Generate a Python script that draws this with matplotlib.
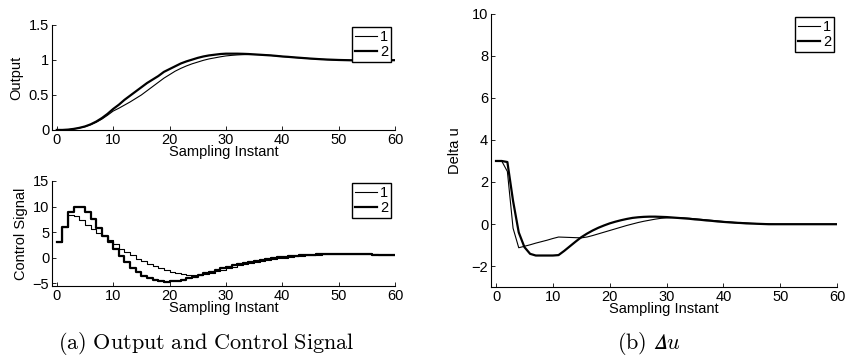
import numpy as np
import matplotlib
matplotlib.use("Agg")
import matplotlib.pyplot as plt

plt.rcParams['font.family'] = ['Liberation Sans', 'DejaVu Sans']
plt.rcParams['mathtext.fontset'] = 'cm'

# sampling instants
k = np.arange(0, 61)

# output, case 1 (thin) and case 2 (thick)
out_1 = [0, 0, 0.004, 0.013, 0.028, 0.047, 0.075, 0.11, 0.155, 0.21, 0.27,
         0.31, 0.355, 0.40, 0.45, 0.50, 0.56, 0.62, 0.68, 0.74, 0.79,
         0.84, 0.88, 0.915, 0.945, 0.97, 0.995, 1.015, 1.03, 1.045, 1.058,
         1.066, 1.072, 1.076, 1.078, 1.078, 1.076, 1.071, 1.065, 1.058, 1.05,
         1.044, 1.037, 1.031, 1.025, 1.019, 1.014, 1.009, 1.005, 1.002, 1.0,
         0.998, 0.996, 0.995, 0.994, 0.994, 0.994, 0.994, 0.995, 0.996, 0.997]
out_2 = [0, 0, 0.005, 0.015, 0.03, 0.05, 0.08, 0.12, 0.17, 0.23, 0.30,
         0.36, 0.43, 0.49, 0.55, 0.61, 0.67, 0.72, 0.77, 0.83, 0.87,
         0.91, 0.95, 0.98, 1.005, 1.03, 1.05, 1.065, 1.075, 1.085, 1.09,
         1.09, 1.09, 1.088, 1.085, 1.08, 1.075, 1.07, 1.065, 1.058, 1.05,
         1.045, 1.038, 1.032, 1.026, 1.02, 1.015, 1.01, 1.006, 1.003, 1.0,
         0.998, 0.996, 0.995, 0.994, 0.994, 0.994, 0.994, 0.995, 0.996, 0.997]

# control signal
u_1 = [3, 6, 8.4, 8.2, 7.4, 6.5, 5.7, 4.9, 4.2, 3.4, 2.6,
       1.8, 1.1, 0.45, -0.15, -0.7, -1.2, -1.65, -2.05, -2.4, -2.7,
       -2.95, -3.15, -3.3, -3.38, -3.35, -3.2, -2.95, -2.65, -2.35, -2.05,
       -1.75, -1.48, -1.22, -0.97, -0.76, -0.56, -0.39, -0.23, -0.09, 0.04,
       0.16, 0.27, 0.37, 0.46, 0.54, 0.61, 0.66, 0.7, 0.73, 0.75,
       0.76, 0.76, 0.75, 0.73, 0.7, 0.66, 0.62, 0.57, 0.52, 0.47]
u_2 = [3, 6, 9, 10, 9.9, 9.0, 7.5, 5.8, 4.3, 3.0, 1.7,
       0.4, -0.9, -1.9, -2.7, -3.5, -4.0, -4.35, -4.55, -4.7, -4.6,
       -4.45, -4.25, -4.0, -3.7, -3.3, -3.0, -2.7, -2.35, -2.0, -1.7,
       -1.45, -1.2, -0.95, -0.75, -0.55, -0.35, -0.2, -0.05, 0.1, 0.2,
       0.3, 0.4, 0.5, 0.57, 0.63, 0.68, 0.72, 0.75, 0.77, 0.78,
       0.78, 0.77, 0.75, 0.72, 0.68, 0.64, 0.6, 0.55, 0.5, 0.45]

# increments of the control signal
du_1 = [3, 3, 2.5, -0.2, -1.13, -1.06, -0.99, -0.91, -0.84, -0.77, -0.69,
        -0.62, -0.63, -0.64, -0.65, -0.66, -0.62, -0.55, -0.47, -0.39, -0.31,
        -0.23, -0.15, -0.07, 0.0, 0.07, 0.13, 0.18, 0.23, 0.27, 0.29,
        0.3, 0.3, 0.29, 0.27, 0.25, 0.22, 0.2, 0.17, 0.15, 0.12,
        0.1, 0.08, 0.06, 0.05, 0.03, 0.02, 0.01, 0.0, -0.01, -0.01,
        -0.01, -0.01, -0.01, -0.01, -0.01, -0.01, -0.01, -0.01, -0.01, -0.01]
du_2 = [3, 3, 2.95, 1.1, -0.4, -1.1, -1.42, -1.5, -1.5, -1.5, -1.5,
        -1.48, -1.28, -1.06, -0.84, -0.63, -0.46, -0.31, -0.18, -0.07, 0.03,
        0.11, 0.18, 0.24, 0.29, 0.32, 0.34, 0.35, 0.35, 0.34, 0.33,
        0.31, 0.29, 0.27, 0.25, 0.22, 0.2, 0.17, 0.15, 0.12, 0.1,
        0.08, 0.06, 0.05, 0.03, 0.02, 0.01, 0.0, -0.01, -0.01, -0.01,
        -0.01, -0.01, -0.01, -0.01, -0.01, -0.01, -0.01, -0.01, -0.01, -0.01]

labels = ['1', '2']
thin, thick = 0.8, 1.6
fs = 10.5


def matlab_style(ax):
    for s in ['top', 'right']:
        ax.spines[s].set_visible(False)
    for s in ['left', 'bottom']:
        ax.spines[s].set_linewidth(0.8)
    ax.tick_params(direction='in', length=3, width=0.6, labelsize=fs, pad=2)
    ax.set_xticks(np.arange(0, 61, 10))
    ax.set_xlabel('Sampling Instant', fontsize=fs, labelpad=-1)
    ax.yaxis.set_major_formatter(matplotlib.ticker.FuncFormatter(
        lambda v, p: ('%g' % v).replace('-', '\u2212')))


def add_legend(ax, fig, corner):
    leg = ax.legend(labels, loc='upper right', bbox_to_anchor=corner,
                    bbox_transform=fig.transFigure, fontsize=fs,
                    frameon=True, fancybox=False, framealpha=1,
                    edgecolor='black', borderaxespad=0, handlelength=1.5,
                    handletextpad=0.2, borderpad=0.2, labelspacing=0.05)
    leg.get_frame().set_linewidth(1.0)


fig = plt.figure(figsize=(8.47, 3.57), dpi=100)

ax1 = fig.add_axes([0.0614, 0.636, 0.405, 0.294])
ax1.plot(k, out_1, color='black', lw=thin)
ax1.plot(k, out_2, color='black', lw=thick)
ax1.set_xlim(-0.85, 60)
ax1.set_ylim(0, 1.5)
ax1.set_yticks([0, 0.5, 1, 1.5])
ax1.set_ylabel('Output', fontsize=fs, labelpad=4)
matlab_style(ax1)
add_legend(ax1, fig, (0.4616, 0.9244))

ax2 = fig.add_axes([0.0614, 0.199, 0.405, 0.294])
ax2.step(k, u_1, where='post', color='black', lw=thin)
ax2.step(k, u_2, where='post', color='black', lw=thick)
ax2.set_xlim(-0.85, 60)
ax2.set_ylim(-5.5, 15)
ax2.set_yticks([-5, 0, 5, 10, 15])
ax2.set_ylabel('Control Signal', fontsize=fs, labelpad=3.5)
matlab_style(ax2)
add_legend(ax2, fig, (0.4616, 0.4874))

ax3 = fig.add_axes([0.5797, 0.196, 0.4085, 0.765])
ax3.plot(k, du_1, color='black', lw=thin)
ax3.plot(k, du_2, color='black', lw=thick)
ax3.set_xlim(-0.88, 60)
ax3.set_ylim(-3, 10)
ax3.set_yticks([-2, 0, 2, 4, 6, 8, 10])
ax3.set_ylabel('Delta u', fontsize=fs, labelpad=7)
matlab_style(ax3)
add_legend(ax3, fig, (0.9847, 0.9524))

fig.text(206 / 847, 1 - 349 / 357, r'$\mathrm{(a)\ Output\ and\ Control\ Signal}$',
         ha='center', va='baseline', fontsize=16)
fig.text(649 / 847, 1 - 349 / 357, r'$\mathrm{(b)}\ 𝛥u$',
         ha='center', va='baseline', fontsize=16)

fig.savefig('out.png', dpi=100)
